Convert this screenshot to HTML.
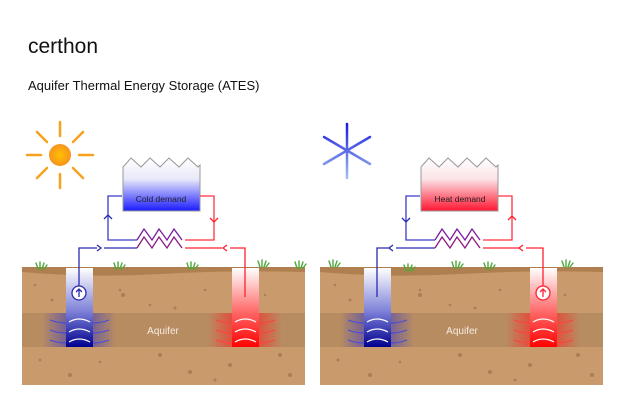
<!DOCTYPE html>
<html><head><meta charset="utf-8"><style>
html,body{margin:0;padding:0;background:#fff;width:626px;height:417px;overflow:hidden}
svg{display:block}
text{font-family:"Liberation Sans",sans-serif}
</style></head><body>
<svg width="626" height="417" viewBox="0 0 626 417" xmlns="http://www.w3.org/2000/svg">
<defs>
<linearGradient id="bCold" x1="0" y1="0" x2="0" y2="1"><stop offset="0" stop-color="#fff"/><stop offset="0.4" stop-color="#e8e8fa"/><stop offset="1" stop-color="#1a1aff"/></linearGradient>
<linearGradient id="bHeat" x1="0" y1="0" x2="0" y2="1"><stop offset="0" stop-color="#fff"/><stop offset="0.4" stop-color="#fbe3e6"/><stop offset="1" stop-color="#ff1530"/></linearGradient>
<linearGradient id="wBlue" x1="0" y1="0" x2="0" y2="1"><stop offset="0" stop-color="#fff"/><stop offset="0.55" stop-color="#7d80d8"/><stop offset="1" stop-color="#00008f"/></linearGradient>
<linearGradient id="wRed" x1="0" y1="0" x2="0" y2="1"><stop offset="0" stop-color="#fff"/><stop offset="0.55" stop-color="#ff6a6a"/><stop offset="1" stop-color="#ff0000"/></linearGradient>
<linearGradient id="gBlue" x1="0" x2="1"><stop offset="0" stop-color="#4040c0" stop-opacity="0"/><stop offset="0.35" stop-color="#4040c0" stop-opacity="0.6"/><stop offset="0.65" stop-color="#4040c0" stop-opacity="0.6"/><stop offset="1" stop-color="#4040c0" stop-opacity="0"/></linearGradient>
<linearGradient id="gRed" x1="0" x2="1"><stop offset="0" stop-color="#ff2020" stop-opacity="0"/><stop offset="0.35" stop-color="#ff2020" stop-opacity="0.6"/><stop offset="0.65" stop-color="#ff2020" stop-opacity="0.6"/><stop offset="1" stop-color="#ff2020" stop-opacity="0"/></linearGradient>
<radialGradient id="sun"><stop offset="0" stop-color="#ffc000"/><stop offset="1" stop-color="#f7931e"/></radialGradient>
<linearGradient id="snow" gradientUnits="userSpaceOnUse" x1="0" y1="124" x2="0" y2="178"><stop offset="0" stop-color="#1a1ae0"/><stop offset="1" stop-color="#9fc0ee"/></linearGradient>
</defs>

<text x="28" y="53" font-size="21" fill="#111">certhon</text>
<text x="28" y="90" font-size="13" fill="#111">Aquifer Thermal Energy Storage (ATES)</text>

<!-- Sun -->
<g stroke="#f7a21e" stroke-width="2.5" stroke-linecap="round">
<line x1="60" y1="122" x2="60" y2="136"/><line x1="60" y1="174" x2="60" y2="188"/>
<line x1="27" y1="155" x2="41" y2="155"/><line x1="79" y1="155" x2="93" y2="155"/>
<line x1="37" y1="132" x2="47" y2="142"/><line x1="73" y1="168" x2="83" y2="178"/>
<line x1="83" y1="132" x2="73" y2="142"/><line x1="47" y1="168" x2="37" y2="178"/>
</g>
<circle cx="60" cy="155" r="11" fill="url(#sun)"/>

<!-- Snowflake -->
<g stroke="url(#snow)" stroke-width="2.5" stroke-linecap="round">
<line x1="347" y1="124" x2="347.01" y2="178"/>
<line x1="324" y1="137" x2="370" y2="164"/>
<line x1="370" y1="137" x2="324" y2="164"/>
</g>

<!-- Soil panels -->
<g>
<rect x="22" y="268" width="283" height="117" fill="#c99a6b"/>
<path d="M22 267H305V272Q230 270 160 274T22 272Z" fill="#b07f4f"/>
<rect x="22" y="313" width="283" height="34" fill="#b88c61"/>
<rect x="320" y="268" width="283" height="117" fill="#c99a6b"/>
<path d="M320 267H603V272Q530 270 460 274T320 272Z" fill="#b07f4f"/>
<rect x="320" y="313" width="283" height="34" fill="#b88c61"/>
<g fill="#9c7550" opacity="0.7">
<circle cx="35" cy="285" r="1.3"/><circle cx="52" cy="300" r="1.5"/><circle cx="40" cy="360" r="1.5"/><circle cx="70" cy="375" r="2"/><circle cx="120" cy="290" r="1.3"/><circle cx="123" cy="295" r="2"/><circle cx="150" cy="305" r="1.3"/><circle cx="160" cy="355" r="2"/><circle cx="190" cy="372" r="2"/><circle cx="205" cy="290" r="1.3"/><circle cx="215" cy="380" r="1.5"/><circle cx="265" cy="295" r="1.3"/><circle cx="280" cy="355" r="2"/><circle cx="290" cy="375" r="2"/><circle cx="100" cy="362" r="1.3"/><circle cx="230" cy="365" r="2"/><circle cx="175" cy="308" r="1.5"/>
<circle cx="335" cy="285" r="1.3"/><circle cx="350" cy="300" r="1.5"/><circle cx="338" cy="360" r="1.5"/><circle cx="370" cy="375" r="2"/><circle cx="420" cy="290" r="1.3"/><circle cx="420" cy="295" r="2"/><circle cx="450" cy="305" r="1.3"/><circle cx="460" cy="355" r="2"/><circle cx="490" cy="372" r="2"/><circle cx="500" cy="290" r="1.3"/><circle cx="515" cy="380" r="1.5"/><circle cx="565" cy="295" r="1.3"/><circle cx="578" cy="355" r="2"/><circle cx="592" cy="375" r="2"/><circle cx="400" cy="362" r="1.3"/><circle cx="530" cy="365" r="2"/><circle cx="475" cy="308" r="1.5"/>
</g>
<g stroke="#4fa83a" stroke-width="1.4" fill="none" stroke-linecap="round">
<path d="M38 269l-2-6M40 269l0-7M42 269l2-6M44 269l3-4"/>
<path d="M116 269l-2-6M118 269l0-7M120 269l2-6M122 269l3-4"/>
<path d="M189 269l-2-6M191 269l0-7M193 269l2-6M195 269l3-4"/>
<path d="M260 267l-2-6M262 267l0-7M264 267l2-6M266 267l3-4"/>
<path d="M297 268l-2-6M299 268l0-7M301 268l2-6M303 268l3-4"/>
<path d="M331 267l-2-6M333 267l0-7M335 267l2-6M337 267l3-4"/>
<path d="M406 271l-2-6M408 271l0-7M410 271l2-6M412 271l3-4"/>
<path d="M454 268l-2-6M456 268l0-7M458 268l2-6M460 268l3-4"/>
<path d="M486 269l-2-6M488 269l0-7M490 269l2-6M492 269l3-4"/>
<path d="M564 267l-2-6M566 267l0-7M568 267l2-6M570 267l3-4"/>
</g>
</g>

<text x="163" y="334" font-size="10" fill="#f4ece2" text-anchor="middle">Aquifer</text>
<text x="462" y="334" font-size="10" fill="#f4ece2" text-anchor="middle">Aquifer</text>

<!-- Glows -->
<rect x="42" y="313" width="74" height="34" fill="url(#gBlue)"/>
<rect x="208" y="313" width="74" height="34" fill="url(#gRed)"/>
<rect x="340" y="313" width="74" height="34" fill="url(#gBlue)"/>
<rect x="506" y="313" width="74" height="34" fill="url(#gRed)"/>
<!-- Wells -->
<rect x="66" y="268" width="27" height="79" fill="url(#wBlue)"/>
<rect x="232" y="268" width="27" height="79" fill="url(#wRed)"/>
<rect x="364" y="268" width="27" height="79" fill="url(#wBlue)"/>
<rect x="530" y="268" width="27" height="79" fill="url(#wRed)"/>

<!-- waves -->
<g fill="none" stroke-width="1.2">
<g stroke="#4a4ad8">
<path d="M50 320q8 3 16 3M50 330q8 3 16 3M50 340q8 3 16 3M93 323q8 0 16-3M93 333q8 0 16-3M93 343q8 0 16-3"/>
<path d="M348 320q8 3 16 3M348 330q8 3 16 3M348 340q8 3 16 3M391 323q8 0 16-3M391 333q8 0 16-3M391 343q8 0 16-3"/></g>
<g stroke="#ff4040">
<path d="M216 320q8 3 16 3M216 330q8 3 16 3M216 340q8 3 16 3M259 323q8 0 16-3M259 333q8 0 16-3M259 343q8 0 16-3"/>
<path d="M514 320q8 3 16 3M514 330q8 3 16 3M514 340q8 3 16 3M557 323q8 0 16-3M557 333q8 0 16-3M557 343q8 0 16-3"/></g>
<g stroke="#fff"><path d="M69 322q10-6 21 0M69 332q10-6 21 0M69 342q10-6 21 0M235 322q10-6 21 0M235 332q10-6 21 0M235 342q10-6 21 0M367 322q10-6 21 0M367 332q10-6 21 0M367 342q10-6 21 0M533 322q10-6 21 0M533 332q10-6 21 0M533 342q10-6 21 0"/></g>
</g>

<!-- Buildings -->
<path d="M123 211V167l8-9 10 9 9-9 10 9 9-9 10 9 9-9 10 9 2-2V211Z" fill="url(#bCold)" stroke="#999" stroke-width="1"/>
<text x="161" y="202" font-size="8.5" fill="#222" text-anchor="middle">Cold demand</text>
<path d="M421 211V167l8-9 10 9 9-9 10 9 9-9 10 9 9-9 10 9 2-2V211Z" fill="url(#bHeat)" stroke="#999" stroke-width="1"/>
<text x="460" y="202" font-size="8.5" fill="#222" text-anchor="middle">Heat demand</text>

<!-- Left panel pipes -->
<g fill="none" stroke-width="1.3">
<path d="M122 196H108V240H137" stroke="#3a3acc"/>
<path d="M137 240l7-11 8 11 7-11 8 11 7-11 8 11" stroke="#7a1aa0"/>
<path d="M185 240H214V196H200" stroke="#ff3040"/>
<path d="M79 293V248H97M104 248H137" stroke="#2a2ab0"/>
<path d="M137 248l7-11 8 11 7-11 8 11 7-11 8 11" stroke="#8a1a80"/>
<path d="M185 248H222M230 248H245V297" stroke="#ff2030"/>
<path d="M104 219l4-4 4 4" stroke="#2a2ab0"/>
<path d="M210 218l4 4 4-4" stroke="#ff2030"/>
<path d="M97 245l4 3-4 3" stroke="#2a2ab0"/>
<path d="M227 245l-4 3 4 3" stroke="#ff2030"/>
<circle cx="79" cy="293" r="7" fill="#fff" stroke="#2a2ab0"/>
<path d="M79 297v-8m-3 3l3-3 3 3" stroke="#2a2ab0"/>
</g>
<!-- Right panel pipes -->
<g fill="none" stroke-width="1.3">
<path d="M420 196H406V240H435" stroke="#3a3acc"/>
<path d="M435 240l7-11 8 11 7-11 8 11 7-11 8 11" stroke="#7a1aa0"/>
<path d="M483 240H512V196H498" stroke="#ff3040"/>
<path d="M377 297V248H390M396 248H435" stroke="#2a2ab0"/>
<path d="M435 248l7-11 8 11 7-11 8 11 7-11 8 11" stroke="#8a1a80"/>
<path d="M483 248H520M526 248H543V286" stroke="#ff2030"/>
<path d="M402 218l4 4 4-4" stroke="#2a2ab0"/>
<path d="M508 220l4-4 4 4" stroke="#ff2030"/>
<path d="M393 245l-4 3 4 3" stroke="#2a2ab0"/>
<path d="M523 245l-4 3 4 3" stroke="#ff2030"/>
<circle cx="543" cy="293" r="7" fill="#fff" stroke="#ff2030"/>
<path d="M543 297v-8m-3 3l3-3 3 3" stroke="#ff2030"/>
</g>
</svg>
</body></html>
